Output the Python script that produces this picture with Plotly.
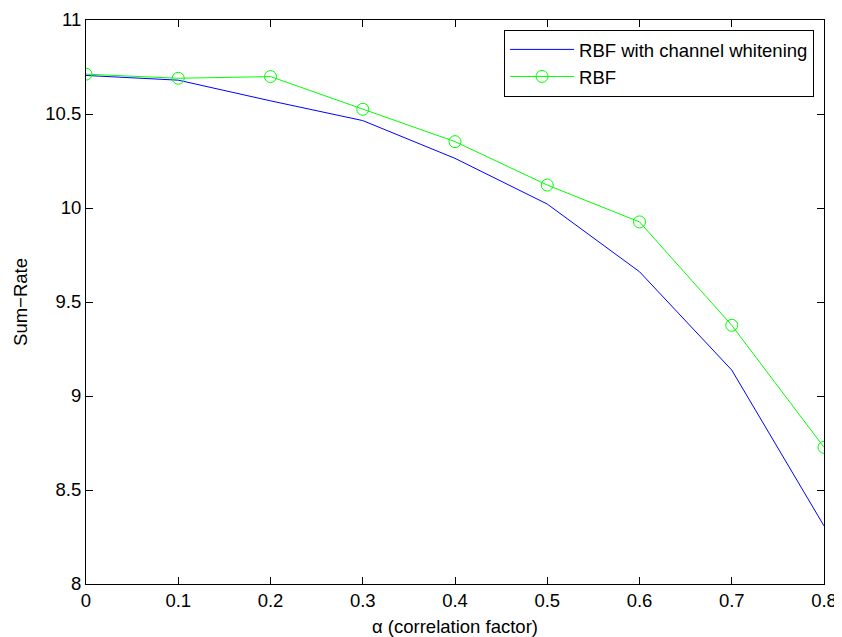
import plotly.graph_objects as go

alpha = [0, 0.1, 0.2, 0.3, 0.4, 0.5, 0.6, 0.7, 0.8]
rbf_whitening = [10.705, 10.68, 10.57, 10.465, 10.264, 10.021, 9.661, 9.138, 8.309]
rbf = [10.712, 10.69, 10.699, 10.525, 10.353, 10.122, 9.926, 9.376, 8.727]

x_ticks = [0, 0.1, 0.2, 0.3, 0.4, 0.5, 0.6, 0.7, 0.8]
x_tick_text = ["0", "0.1", "0.2", "0.3", "0.4", "0.5", "0.6", "0.7", "0.8"]
y_ticks = [8, 8.5, 9, 9.5, 10, 10.5, 11]
y_tick_text = ["8", "8.5", "9", "9.5", "10", "10.5", "11"]

FONT = "Liberation Sans, Arial, Helvetica"
FS = 18.5

fig = go.Figure()
fig.add_trace(go.Scatter(x=alpha, y=rbf_whitening, mode="lines",
                         name="RBF with channel whitening",
                         line=dict(color="#0000FF", width=1)))
fig.add_trace(go.Scatter(x=alpha, y=rbf, mode="lines+markers", name="RBF",
                         line=dict(color="#00FF00", width=1),
                         marker=dict(symbol="circle-open", size=12,
                                     color="#00FF00", line=dict(width=1))))

axis_common = dict(showgrid=False, zeroline=False, showline=True,
                   linecolor="black", linewidth=1, mirror="ticks",
                   ticks="inside", ticklen=7, tickcolor="black", tickwidth=1,
                   automargin=False,
                   tickfont=dict(family=FONT, size=FS, color="black"))

fig.update_xaxes(range=[0, 0.8], tickvals=x_ticks, ticktext=x_tick_text,
                 title=dict(text="α (correlation factor)", standoff=10,
                            font=dict(family=FONT, size=FS, color="black")),
                 **axis_common)
fig.update_yaxes(range=[8, 11], tickvals=y_ticks, ticktext=y_tick_text,
                 title=dict(text="Sum−Rate", standoff=12,
                            font=dict(family=FONT, size=FS, color="black")),
                 **axis_common)

# page body has an 8px margin, so the figure is offset by 8px
fig.update_layout(
    width=834, height=629,
    margin=dict(l=78, r=18, t=12, b=53),
    paper_bgcolor="white", plot_bgcolor="white",
    font=dict(family=FONT, size=FS, color="black"),
    showlegend=True,
    legend=dict(x=0.9865, y=0.9825, xanchor="right", yanchor="top",
                bordercolor="black", borderwidth=1, bgcolor="white",
                font=dict(family=FONT, size=FS, color="black"),
                tracegroupgap=0, itemwidth=64),
)

fig.write_html("out.html")
